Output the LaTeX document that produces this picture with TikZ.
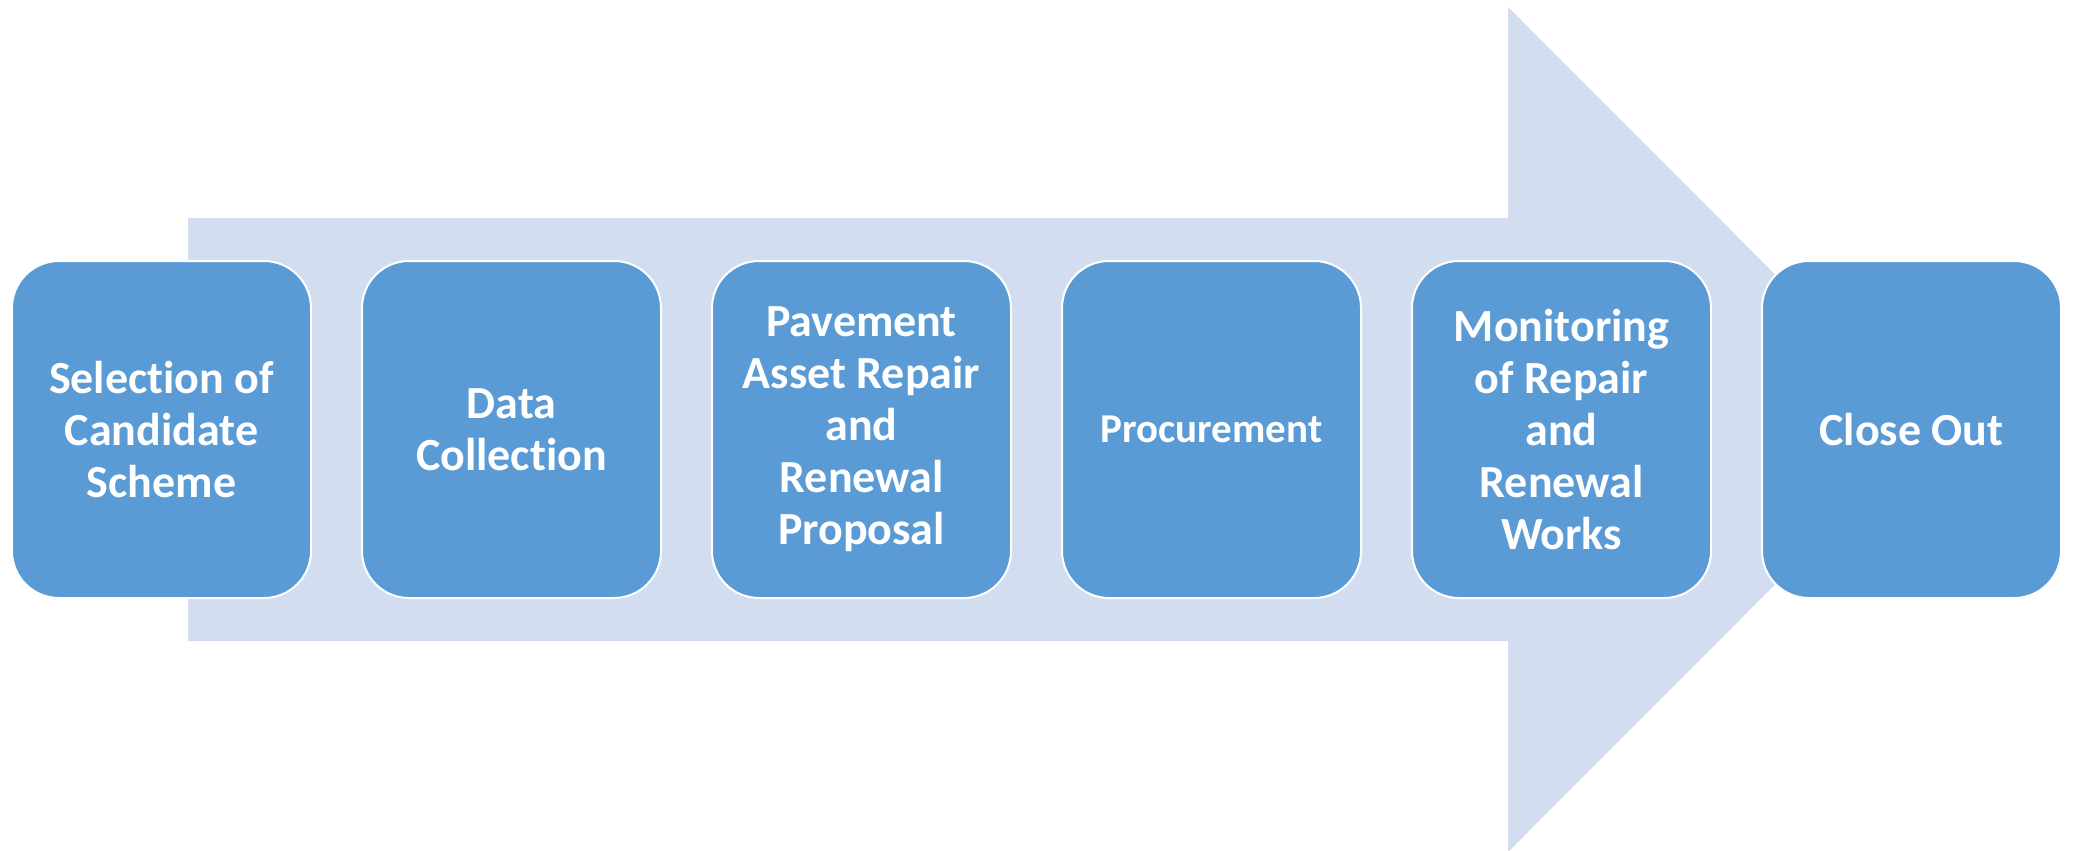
\documentclass[tikz,border=0pt]{standalone}
\usepackage{fontspec}
\setmainfont{Carlito}[RawFeature={-liga;-clig;-dlig;-calt}]
\definecolor{boxblue}{HTML}{5B9BD5}
\definecolor{arrowblue}{HTML}{D2DEEF}
\begin{document}
\begin{tikzpicture}[x=1pt,y=-1pt,
  stepbox/.style={draw=white, line width=2pt, fill=boxblue, rounded corners=47pt,
    minimum width=299pt, minimum height=337pt, inner sep=0pt, align=center,
    text=white, font=\bfseries\fontsize{46}{52}\selectfont},
  smalltext/.style={font=\bfseries\fontsize{41}{48}\selectfont}]
\useasboundingbox (0,0) rectangle (2073,851);
% big background arrow
\fill[arrowblue] (188,218) -- (1508,218) -- (1508,7) -- (1930,429.5)
  -- (1508,852) -- (1508,641) -- (188,641) -- cycle;
% steps
\node[stepbox] (s1) at (161.5,429.5) {Selection of\\Candidate\\Scheme};
\node[stepbox] (s2) at (511.5,429.5) {Data\\Collection};
\node[stepbox] (s3) at (861.5,429.5) {Pavement\\Asset Repair\\and\\Renewal\\Proposal};
\node[stepbox, smalltext] (s4) at (1211.5,429.5) {Procurement};
\node[stepbox] (s5) at (1561.5,429.5) {Monitoring\\of Repair\\and\\Renewal\\Works};
\node[stepbox] (s6) at (1911.5,429.5) {Close Out};
\end{tikzpicture}
\end{document}
